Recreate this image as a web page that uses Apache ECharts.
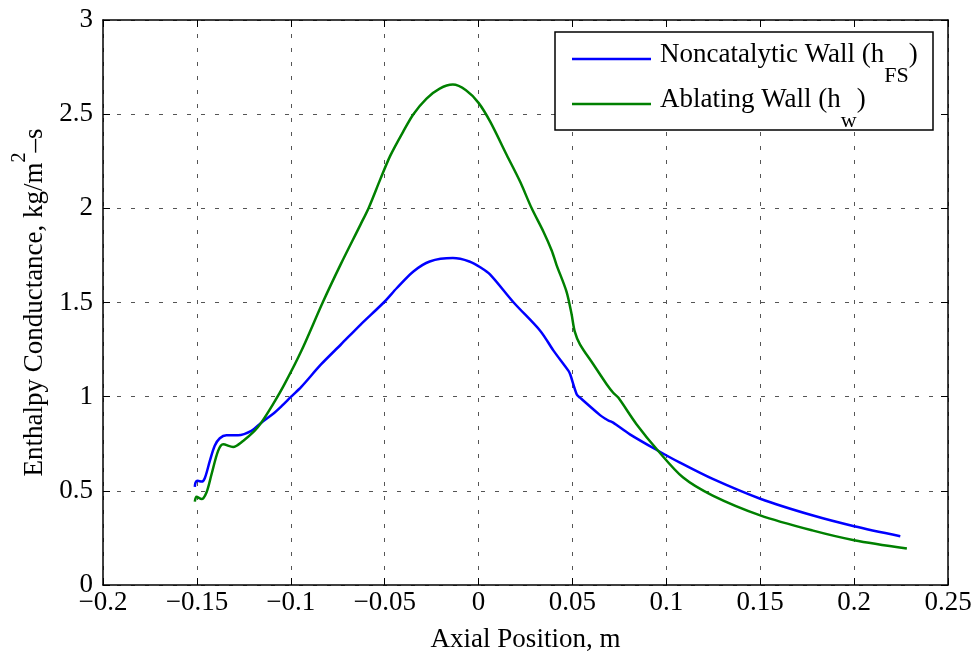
<!DOCTYPE html>
<html><head><meta charset="utf-8">
<script src="https://cdn.jsdelivr.net/npm/echarts@6/dist/echarts.min.js"></script>
<style>html,body{margin:0;padding:0;background:#fff}#c{width:977px;height:656px}</style>
</head><body><div id="c"></div>
<script>
// Tick labels
const xTickLabels = ['\u22120.2','\u22120.15','\u22120.1','\u22120.05','0','0.05','0.1','0.15','0.2','0.25'];
const yTickLabels = ['0','0.5','1','1.5','2','2.5','3'];
const xMin = -0.2, xMax = 0.25, xStep = 0.05;
const yMin = 0, yMax = 3, yStep = 0.5;

// Noncatalytic Wall (h_FS)
const ncX = [-0.1511,-0.1507,-0.1496,-0.1475,-0.1458,-0.1431,-0.1405,-0.1378,-0.1343,-0.1281,-0.121,-0.1157,-0.1087,-0.1049,-0.0998,-0.0944,-0.0839,-0.0733,-0.0628,-0.0505,-0.0435,-0.0347,-0.026,-0.0137,-0.0049,0.0011,0.0062,0.0187,0.0329,0.04,0.0479,0.0488,0.0523,0.054,0.0647,0.068,0.0695,0.0717,0.0806,0.0956,0.107,0.1247,0.15,0.1777,0.2,0.2246];
const ncY = [0.521,0.544,0.553,0.549,0.567,0.659,0.739,0.779,0.795,0.795,0.818,0.862,0.915,0.95,1.0,1.052,1.171,1.277,1.383,1.5,1.577,1.665,1.718,1.736,1.718,1.686,1.648,1.5,1.349,1.243,1.137,1.119,1.012,0.995,0.902,0.88,0.872,0.862,0.80,0.713,0.651,0.563,0.458,0.37,0.312,0.259];

// Ablating Wall (h_w)
const abX = [-0.1511,-0.1502,-0.1475,-0.1449,-0.1422,-0.1387,-0.136,-0.1307,-0.1254,-0.1193,-0.1157,-0.1095,-0.1034,-0.0944,-0.083,-0.0733,-0.0628,-0.0584,-0.0523,-0.047,-0.040,-0.0347,-0.0277,-0.0207,-0.0137,-0.0067,0.0,0.0062,0.015,0.0221,0.0283,0.0345,0.039,0.0415,0.0468,0.0495,0.0512,0.054,0.0611,0.0682,0.0717,0.0744,0.0841,0.0956,0.1088,0.1247,0.15,0.1777,0.2,0.2281];
const abY = [0.443,0.468,0.456,0.491,0.588,0.712,0.747,0.733,0.765,0.818,0.862,0.959,1.065,1.242,1.5,1.705,1.915,2.005,2.155,2.28,2.41,2.5,2.583,2.636,2.657,2.627,2.56,2.46,2.283,2.142,2.0,1.877,1.775,1.70,1.559,1.44,1.347,1.278,1.172,1.066,1.021,0.995,0.854,0.713,0.572,0.475,0.37,0.29,0.238,0.194];

const FONT = 'Liberation Serif';
const pair = (xs, ys) => xs.map((x, i) => [x, ys[i]]);
const lbl = (arr, mn, st) => v => arr[Math.round((v - mn) / st)] ?? '';

const chart = echarts.init(document.getElementById('c'), null, {renderer: 'canvas'});
const gridLine = {show: true, lineStyle: {type: [4, 10], color: '#555', width: 1}};
const axLine = {show: true, onZero: false, lineStyle: {color: '#000', width: 1.5}};
const tick = {show: true, inside: true, length: 7, lineStyle: {color: '#000', width: 1}};

chart.setOption({
  animation: false,
  backgroundColor: '#fff',
  grid: {left: 103, right: 29, top: 20, bottom: 71, containLabel: false, outerBoundsMode: 'none'},
  xAxis: [{
    type: 'value', min: xMin, max: xMax, interval: xStep,
    axisLine: axLine, axisTick: tick, splitLine: gridLine,
    axisLabel: {formatter: lbl(xTickLabels, xMin, xStep), fontFamily: FONT, fontSize: 27, color: '#000', margin: 4},
    name: 'Axial Position, m', nameLocation: 'middle', nameGap: 41, nameMoveOverlap: false,
    nameTextStyle: {fontFamily: FONT, fontSize: 27, color: '#000'}
  }, {
    type: 'value', position: 'top', min: xMin, max: xMax, interval: xStep,
    axisLine: axLine, axisTick: tick, splitLine: {show: false}, axisLabel: {show: false}
  }],
  yAxis: [{
    type: 'value', min: yMin, max: yMax, interval: yStep,
    axisLine: axLine, axisTick: tick, splitLine: gridLine,
    axisLabel: {formatter: lbl(yTickLabels, yMin, yStep), fontFamily: FONT, fontSize: 27, color: '#000', margin: 10},
    name: '{a|Enthalpy Conductance, kg/m}{b|2}{a|\u2013s}', nameLocation: 'middle', nameGap: 53, nameMoveOverlap: false,
    nameTextStyle: {
      fontFamily: FONT, fontSize: 27, color: '#000',
      rich: {
        a: {fontFamily: FONT, fontSize: 27, color: '#000', lineHeight: 30},
        b: {fontFamily: FONT, fontSize: 20, color: '#000', lineHeight: 30, padding: [0, 0, 30, 0]}
      }
    }
  }, {
    type: 'value', position: 'right', min: yMin, max: yMax, interval: yStep,
    axisLine: axLine, axisTick: tick, splitLine: {show: false}, axisLabel: {show: false}
  }],
  graphic: [{
    type: 'rect', z: 3, silent: true,
    shape: {x: 555, y: 32, width: 378, height: 98},
    style: {fill: '#fff', stroke: '#000', lineWidth: 1.5}
  }],
  legend: {
    orient: 'vertical', left: 572, top: 31,
    padding: 0, itemGap: -11,
    icon: 'rect', itemWidth: 79, itemHeight: 2.5,
    formatter: name => name === 'nc'
      ? '{f|Noncatalytic Wall (h}{s|FS}{a|)}'
      : '{f|Ablating Wall (h}{s|w}{a|)}',
    textStyle: {
      fontFamily: FONT, fontSize: 27, color: '#000',
      rich: {
        f: {fontFamily: FONT, fontSize: 27, color: '#000', lineHeight: 30, padding: [0, 0, 8, 4]},
        a: {fontFamily: FONT, fontSize: 27, color: '#000', lineHeight: 30, padding: [0, 0, 8, 0]},
        s: {fontFamily: FONT, fontSize: 22, color: '#000', lineHeight: 30, padding: [34, 0, 0, 0]}
      }
    },
    data: [{name: 'nc'}, {name: 'ab'}]
  },
  series: [{
    name: 'nc', type: 'line', data: pair(ncX, ncY), symbol: 'none', showSymbol: false, smooth: 0.3,
    lineStyle: {color: '#0000ff', width: 2.5}, itemStyle: {color: '#0000ff'}
  }, {
    name: 'ab', type: 'line', data: pair(abX, abY), symbol: 'none', showSymbol: false, smooth: 0.3,
    lineStyle: {color: '#008000', width: 2.5}, itemStyle: {color: '#008000'}
  }]
});
</script>
</body></html>
